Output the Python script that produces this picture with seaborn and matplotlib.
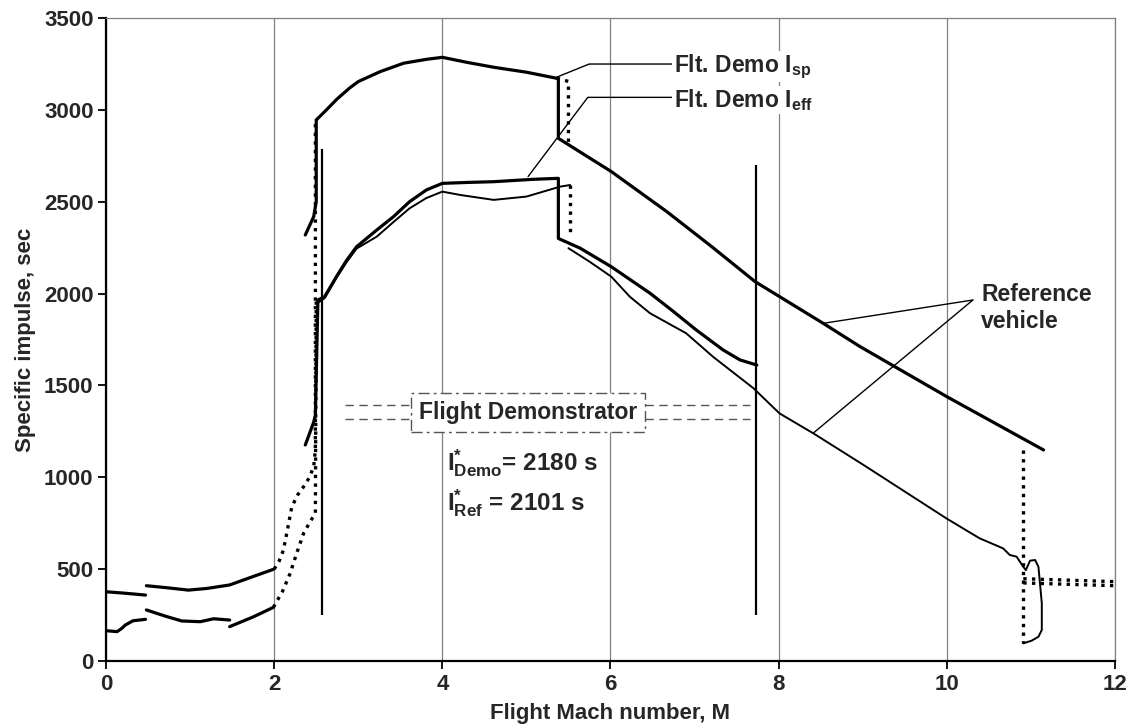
import matplotlib
matplotlib.use('Agg')
import matplotlib.pyplot as plt
import pandas as pd
import seaborn as sns

sns.set_theme(style='white')
plt.rcParams['font.family'] = ['Liberation Sans', 'DejaVu Sans']
plt.rcParams['font.weight'] = 'bold'
plt.rcParams['mathtext.fontset'] = 'custom'
plt.rcParams['mathtext.rm'] = 'Liberation Sans:bold'
plt.rcParams['mathtext.it'] = 'Liberation Sans:bold'
plt.rcParams['mathtext.bf'] = 'Liberation Sans:bold'

# ---- data (Mach number, specific impulse in sec) ----
# low speed part, upper row (Isp)
isp_low1_m = [0.0, 0.2, 0.47]
isp_low1_v = [377, 370, 359]
isp_low2_m = [0.48, 0.7, 0.98, 1.2, 1.47, 1.75, 1.99]
isp_low2_v = [410, 400, 386, 395, 414, 460, 499]
# low speed part, lower row (Ieff)
ieff_low1_m = [0.0, 0.13, 0.18, 0.23, 0.32, 0.47]
ieff_low1_v = [165, 160, 175, 196, 219, 227]
ieff_low2_m = [0.48, 0.7, 0.9, 1.12, 1.28, 1.47]
ieff_low2_v = [278, 245, 218, 214, 230, 223]
ieff_low3_m = [1.47, 1.75, 1.99]
ieff_low3_v = [187, 240, 292]

# dotted transitions
dot_isp_m = [2.0, 2.06, 2.11, 2.16, 2.21, 2.28, 2.35, 2.42, 2.47, 2.49, 2.49]
dot_isp_v = [500, 545, 604, 720, 840, 905, 949, 1000, 1058, 1150, 2945]
dot_ieff_m = [1.99, 2.1, 2.19, 2.27, 2.35, 2.43, 2.49, 2.5]
dot_ieff_v = [292, 380, 477, 590, 695, 760, 804, 1960]
dot_isp55_m = [5.36, 5.5, 5.5]
dot_isp55_v = [3172, 3155, 2820]
dot_ieff55_m = [5.52, 5.52]
dot_ieff55_v = [2591, 2319]
dot_end_m = [10.91, 10.91]
dot_end_v = [1149, 96]
dot_tail1_m = [10.91, 12.0]
dot_tail1_v = [448, 432]
dot_tail2_m = [10.91, 12.0]
dot_tail2_v = [425, 410]

# flight demonstrator / reference Isp (thick)
demo_isp_m = [2.37, 2.47, 2.5, 2.5, 2.6, 2.75, 2.9, 3.0, 3.26, 3.54, 3.81, 4.0, 4.3, 4.61,
              5.0, 5.36, 5.38, 5.38, 6.01, 6.67, 7.2, 7.72, 8.53, 8.97, 10.0, 11.15]
demo_isp_v = [2319, 2419, 2500, 2945, 2990, 3060, 3120, 3154, 3208, 3254, 3275, 3286, 3258,
              3232, 3205, 3172, 3172, 2845, 2664, 2446, 2257, 2065, 1838, 1711, 1439, 1149]

# flight demonstrator Ieff (thick)
demo_ieff_m = [2.37, 2.47, 2.49, 2.52, 2.6, 2.74, 2.86, 2.98, 3.22, 3.42, 3.61, 3.81, 4.0,
               4.3, 4.61, 5.08, 5.36, 5.38, 5.38, 5.64, 6.01, 6.47, 6.75, 7.02, 7.34, 7.54,
               7.74]
demo_ieff_v = [1176, 1300, 1339, 1965, 1983, 2092, 2180, 2255, 2346, 2419, 2500, 2564, 2600,
               2605, 2609, 2622, 2627, 2627, 2300, 2247, 2146, 2002, 1902, 1802, 1693, 1639,
               1611]

# reference vehicle Ieff (thin)
ref_ieff1_m = [2.52, 2.6, 2.74, 2.86, 2.98, 3.22, 3.42, 3.61, 3.81, 4.0, 4.21, 4.61, 5.0,
               5.4, 5.52]
ref_ieff1_v = [1950, 1975, 2085, 2170, 2245, 2310, 2390, 2464, 2520, 2555, 2537, 2510, 2528,
               2582, 2591]
ref_ieff2_m = [5.5, 5.75, 6.01, 6.23, 6.47, 6.9, 7.22, 7.7, 8.01, 8.41, 9.0, 10.0, 10.39,
               10.67, 10.75, 10.83, 10.91, 10.94, 10.99, 11.05, 11.09, 11.13, 11.13, 11.09,
               11.01, 10.91]
ref_ieff2_v = [2247, 2174, 2092, 1983, 1893, 1784, 1656, 1485, 1348, 1240, 1070, 775, 668,
               613, 577, 568, 513, 495, 546, 550, 513, 314, 169, 132, 111, 96]

# vertical markers of the demonstrator range
marker_m = [2.57, 7.73]
marker_lo = [250, 250]
marker_hi = [2785, 2700]

# bracket lines either side of the "Flight Demonstrator" box
bracket_left_m = [2.84, 3.63]
bracket_right_m = [6.41, 7.66]
bracket_v = [1394, 1318]


def draw(ax, m, v, lw, ls='-'):
    df = pd.DataFrame({'M': m, 'I': v})
    sns.lineplot(data=df, x='M', y='I', ax=ax, sort=False, estimator=None,
                 color='black', lw=lw, linestyle=ls, zorder=3)


fig = plt.figure(figsize=(11.34, 7.26), dpi=100)
ax = fig.add_axes([0.0935, 0.0895, 0.8897, 0.8857])

thick = 2.3
thin = 1.4
dots = (0, (1, 1.6))
fs = 16

for m, v in [(isp_low1_m, isp_low1_v), (isp_low2_m, isp_low2_v),
             (ieff_low1_m, ieff_low1_v), (ieff_low2_m, ieff_low2_v),
             (ieff_low3_m, ieff_low3_v)]:
    draw(ax, m, v, thick)

for m, v in [(dot_isp_m, dot_isp_v), (dot_ieff_m, dot_ieff_v),
             (dot_isp55_m, dot_isp55_v), (dot_ieff55_m, dot_ieff55_v),
             (dot_end_m, dot_end_v), (dot_tail1_m, dot_tail1_v),
             (dot_tail2_m, dot_tail2_v)]:
    draw(ax, m, v, 2.4, dots)

draw(ax, demo_isp_m, demo_isp_v, thick)
draw(ax, demo_ieff_m, demo_ieff_v, thick)
draw(ax, ref_ieff1_m, ref_ieff1_v, thin)
draw(ax, ref_ieff2_m, ref_ieff2_v, thin)

ax.vlines(marker_m, marker_lo, marker_hi, color='black', lw=1.6, zorder=3)

for y in bracket_v:
    ax.plot(bracket_left_m, [y, y], color='#555555', lw=1.0, ls=(0, (6, 4)), zorder=2)
    ax.plot(bracket_right_m, [y, y], color='#555555', lw=1.0, ls=(0, (6, 4)), zorder=2)

ax.set_xlim(0, 12)
ax.set_ylim(0, 3500)
ax.set_xticks(range(0, 13, 2))
ax.set_yticks(range(0, 3501, 500))
ax.xaxis.grid(True, color='#808080', lw=0.9)
ax.set_axisbelow(True)
ax.tick_params(axis='both', direction='out', length=6, width=1.3, color='black',
               labelsize=fs, pad=3, bottom=True, left=True)
for s in ['left', 'bottom']:
    ax.spines[s].set_color('black')
    ax.spines[s].set_linewidth(1.6)
for s in ['top', 'right']:
    ax.spines[s].set_color('#808080')
    ax.spines[s].set_linewidth(0.9)

ax.set_xlabel('Flight Mach number, M', fontsize=fs, fontweight='bold', labelpad=6)
ax.set_ylabel('Specific impulse, sec', fontsize=fs, fontweight='bold', labelpad=6)

lead = dict(arrowstyle='-', color='black', lw=1.0, shrinkA=0, shrinkB=0, relpos=(0, 0.6))
ax.annotate('Flt. Demo I$_{\\mathrm{sp}}$', xy=(5.36, 3178), xytext=(6.75, 3234),
            fontsize=16.5, ha='left', va='center',
            arrowprops=dict(connectionstyle='angle,angleA=0,angleB=22,rad=0', **lead),
            bbox=dict(fc='white', ec='none', pad=1))
ax.annotate('Flt. Demo I$_{\\mathrm{eff}}$', xy=(5.02, 2637), xytext=(6.75, 3054),
            fontsize=16.5, ha='left', va='center',
            arrowprops=dict(connectionstyle='angle,angleA=0,angleB=53,rad=0', **lead),
            bbox=dict(fc='white', ec='none', pad=1))

ax.text(10.41, 1920, 'Reference\nvehicle', fontsize=16.5, ha='left', va='center',
        linespacing=1.2)
for pt in [(8.53, 1838), (8.41, 1240)]:
    ax.annotate('', xy=pt, xytext=(10.31, 1965),
                arrowprops=dict(arrowstyle='-', color='black', lw=1.0,
                                shrinkA=0, shrinkB=0))

ax.text(5.02, 1355, 'Flight Demonstrator', fontsize=16.5, ha='center', va='center',
        zorder=4,
        bbox=dict(boxstyle='square,pad=0.35', fc='white', ec='#555555', lw=1.0,
                  ls=(0, (8, 3, 2, 3))))
ax.text(4.05, 1076, 'I$^{*}_{\\mathrm{Demo}}$= 2180 s', fontsize=17.5, ha='left',
        va='center', bbox=dict(fc='white', ec='none', pad=1))
ax.text(4.05, 860, 'I$^{*}_{\\mathrm{Ref}}$ = 2101 s', fontsize=17.5, ha='left',
        va='center', bbox=dict(fc='white', ec='none', pad=1))

fig.savefig('out.png', dpi=100)
